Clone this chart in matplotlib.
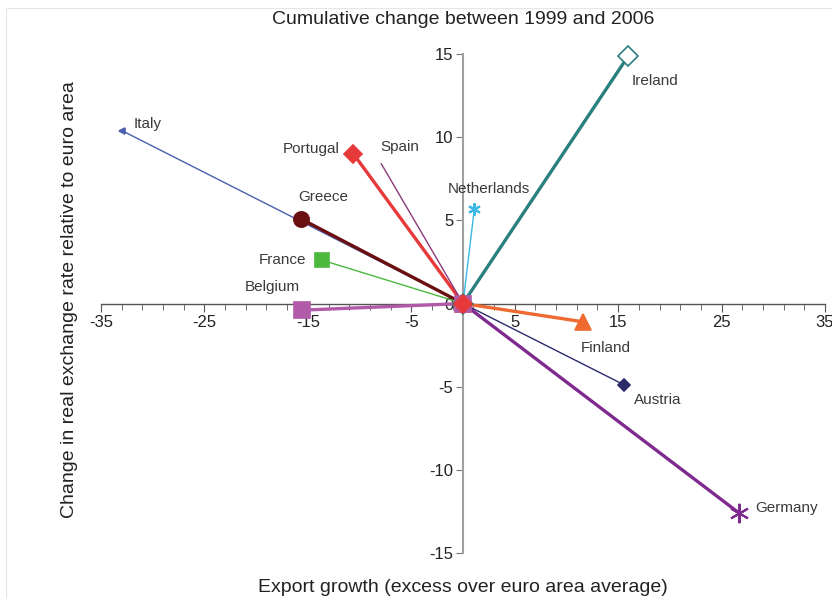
import matplotlib
matplotlib.use('Agg')
import matplotlib.pyplot as plt
from matplotlib.patches import Rectangle

plt.rcParams['font.family'] = ['Liberation Sans', 'DejaVu Sans']
plt.rcParams['axes.unicode_minus'] = False

# 各国终点（出口增长, 实际汇率变化）
countries = ['Italy', 'Portugal', 'Spain', 'Greece', 'France', 'Belgium',
             'Netherlands', 'Ireland', 'Finland', 'Austria', 'Germany']
export_growth = [-33.0, -10.6, -7.9, -15.7, -13.6, -15.6, 1.1, 16.0, 11.6, 15.6, 26.7]
rer_change = [10.4, 9.0, 8.4, 5.1, 2.6, -0.4, 5.7, 14.9, -1.1, -4.9, -12.6]

colors = ['#4a5fad', '#e8393a', '#8b3a7a', '#6b1010', '#4db83e', '#b05aa8',
          '#3ab8e8', '#2a7f7f', '#ee6a30', '#2b2a6b', '#7f2a8f']
markers = ['<', 'D', None, 'o', 's', 's', (6, 2, 0), 'D', '^', 'D', (6, 2, 0)]
msizes = [4, 9, 0, 11, 10, 11, 9, 10, 12, 6, 14]
lwidths = [1.0, 2.4, 1.0, 2.4, 1.0, 2.4, 1.0, 2.4, 2.4, 1.0, 2.4]
# 标签位置（数据坐标）及对齐方式
label_xy = [(-31.8, 10.8), (-11.9, 9.3), (-8.0, 9.4), (-15.9, 6.4), (-15.2, 2.6), (-15.8, 1.0),
            (-1.5, 6.9), (16.3, 13.4), (11.4, -2.7), (16.5, -5.8), (28.3, -12.3)]
label_ha = ['left', 'right', 'left', 'left', 'right', 'right', 'left', 'left', 'left', 'left', 'left']
# 原点处标记的绘制顺序（最后画的在最上层）
origin_order = ['Italy', 'Spain', 'Netherlands', 'Ireland', 'France', 'Austria',
                'Germany', 'Finland', 'Greece', 'Belgium', 'Portugal']

fig = plt.figure(figsize=(8.32, 5.99), dpi=100)
fig.patches.append(Rectangle((6 / 832, -0.1), 1.2, 1 - 8 / 599 + 0.1, transform=fig.transFigure,
                             fill=False, edgecolor='#e6e6e6', linewidth=0.8))
ax = fig.add_axes([101 / 832, 1 - 553 / 599, (825 - 101) / 832, (553 - 54) / 599])

for i, name in enumerate(countries):
    xs = [0, export_growth[i]]
    ys = [0, rer_change[i]]
    mfc = 'white' if name == 'Ireland' else colors[i]
    mew = 1.5 if isinstance(markers[i], tuple) else 1.2
    ax.plot(xs, ys, color=colors[i], linewidth=lwidths[i], marker=markers[i], markevery=[1],
            markersize=msizes[i], markerfacecolor=mfc, markeredgecolor=colors[i],
            markeredgewidth=mew, clip_on=False, zorder=3)
    ax.text(label_xy[i][0], label_xy[i][1], name, ha=label_ha[i], va='center',
            fontsize=11, color='#3a3a3a')

for name in origin_order:
    i = countries.index(name)
    if markers[i] is None:
        continue
    mfc = 'white' if name == 'Ireland' else colors[i]
    ax.plot([0], [0], linestyle='none', marker=markers[i], markersize=min(msizes[i], 11),
            markerfacecolor=mfc, markeredgecolor=colors[i], markeredgewidth=1.2,
            clip_on=False, zorder=4)

ax.set_xlim(-35, 35)
ax.set_ylim(-15, 15)
for s in ['top', 'right']:
    ax.spines[s].set_visible(False)
ax.spines['left'].set_position(('data', 0))
ax.spines['bottom'].set_position(('data', 0))
ax.spines['left'].set_color('#a0a0a0')
ax.spines['left'].set_linewidth(1.5)
ax.spines['bottom'].set_color('#555555')
ax.spines['bottom'].set_linewidth(1.0)

ax.set_xticks([-35, -25, -15, -5, 5, 15, 25, 35])
ax.set_xticks(list(range(-33, 35, 2)), minor=True)
ax.set_yticks([-15, -10, -5, 0, 5, 10, 15])
ax.tick_params(axis='x', which='major', direction='out', length=6, color='#555555',
               labelsize=12, labelcolor='#222222', pad=2)
ax.tick_params(axis='x', which='minor', direction='out', length=4, color='#555555')
ax.tick_params(axis='y', direction='out', length=5, color='#777777',
               labelsize=12, labelcolor='#222222', pad=2)

fig.text(463 / 832, 1 - 20 / 599, 'Cumulative change between 1999 and 2006',
         ha='center', va='center', fontsize=14, color='#222222')
fig.text(463 / 832, 1 - 587 / 599, 'Export growth (excess over euro area average)',
         ha='center', va='center', fontsize=14, color='#222222')
fig.text(70 / 832, 1 - 300 / 599, 'Change in real exchange rate relative to euro area',
         ha='center', va='center', rotation=90, fontsize=14, color='#222222')

fig.savefig('out.png', dpi=100)
